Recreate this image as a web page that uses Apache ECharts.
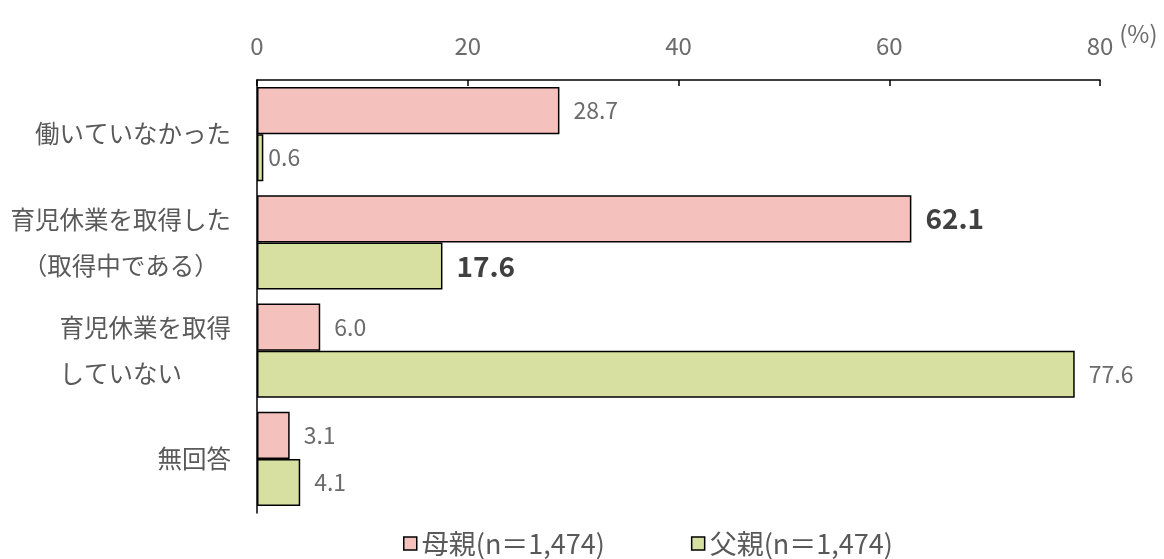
<!DOCTYPE html>
<html>
<head>
<meta charset="utf-8">
<script src="https://cdn.jsdelivr.net/npm/echarts@6/dist/echarts.min.js"></script>
<style>
  html, body { margin: 0; padding: 0; background: #fff; }
  #container { width: 1164px; height: 559px; }
</style>
</head>
<body>
<div id="container"></div>
<script>
const categories = [
    '働いていなかった',
    '育児休業を取得した\n（取得中である）　',
    '育児休業を取得\nしていない　　',
    '無回答'
];
const seriesNames = ['母親(n＝1,474)', '父親(n＝1,474)'];
const motherValues = [28.7, 62.1, 6.0, 3.1];
const fatherValues = [0.6, 17.6, 77.6, 4.1];
const highlightIndex = 1;

const font = '"Noto Sans CJK JP", "Noto Sans", sans-serif';

function toData(values) {
    return values.map((v, i) => {
        const item = { value: v };
        if (i === highlightIndex) {
            item.label = { fontSize: 28, fontWeight: 'bold', color: '#404040' };
        }
        if (v < 1) {
            item.label = { distance: 5 };
        }
        return item;
    });
}

const barBase = {
    type: 'bar',
    barGap: '0%',
    barCategoryGap: '13%',
    label: {
        show: true,
        position: 'right',
        distance: 14,
        color: '#6b6b6b',
        fontSize: 23,
        fontFamily: font,
        formatter: p => p.value.toFixed(1)
    }
};

const myChart = echarts.init(document.getElementById('container'));
const option = {
    backgroundColor: '#fff',
    animation: false,
    grid: { left: 257, right: 64, top: 80, bottom: 46 },
    legend: {
        bottom: -3,
        left: 398,
        itemGap: 86,
        itemTextGap: 4,
        itemWidth: 13,
        itemHeight: 13,
        icon: 'rect',
        itemStyle: { borderWidth: 1.5 },
        textStyle: { color: '#595959', fontSize: 27, fontFamily: font },
        data: seriesNames
    },
    xAxis: {
        type: 'value',
        position: 'top',
        min: 0,
        max: 80,
        interval: 20,
        name: '(%)',
        nameLocation: 'end',
        nameGap: 4,
        nameTextStyle: {
            color: '#6b6b6b', fontSize: 24, fontFamily: font,
            align: 'left', verticalAlign: 'bottom', padding: [0, 0, 34, 0]
        },
        axisLine: { show: true, lineStyle: { color: '#000', width: 1.5 } },
        axisTick: { show: true, inside: true, length: 6, lineStyle: { color: '#000', width: 1.5 } },
        axisLabel: { color: '#6b6b6b', fontSize: 24, fontFamily: font, margin: 22 },
        splitLine: { show: false }
    },
    yAxis: {
        type: 'category',
        inverse: true,
        data: categories,
        axisLine: { show: true, lineStyle: { color: '#000', width: 1.5 } },
        axisTick: { show: false },
        axisLabel: {
            color: '#595959', fontSize: 24.5, fontFamily: font,
            lineHeight: 46, margin: 26
        }
    },
    series: [
        Object.assign({}, barBase, {
            name: seriesNames[0],
            itemStyle: { color: '#F4C1BC', borderColor: '#000', borderWidth: 1.5 },
            data: toData(motherValues)
        }),
        Object.assign({}, barBase, {
            name: seriesNames[1],
            itemStyle: { color: '#D7E0A0', borderColor: '#000', borderWidth: 1.5 },
            data: toData(fatherValues)
        })
    ]
};
myChart.setOption(option);
</script>
</body>
</html>
